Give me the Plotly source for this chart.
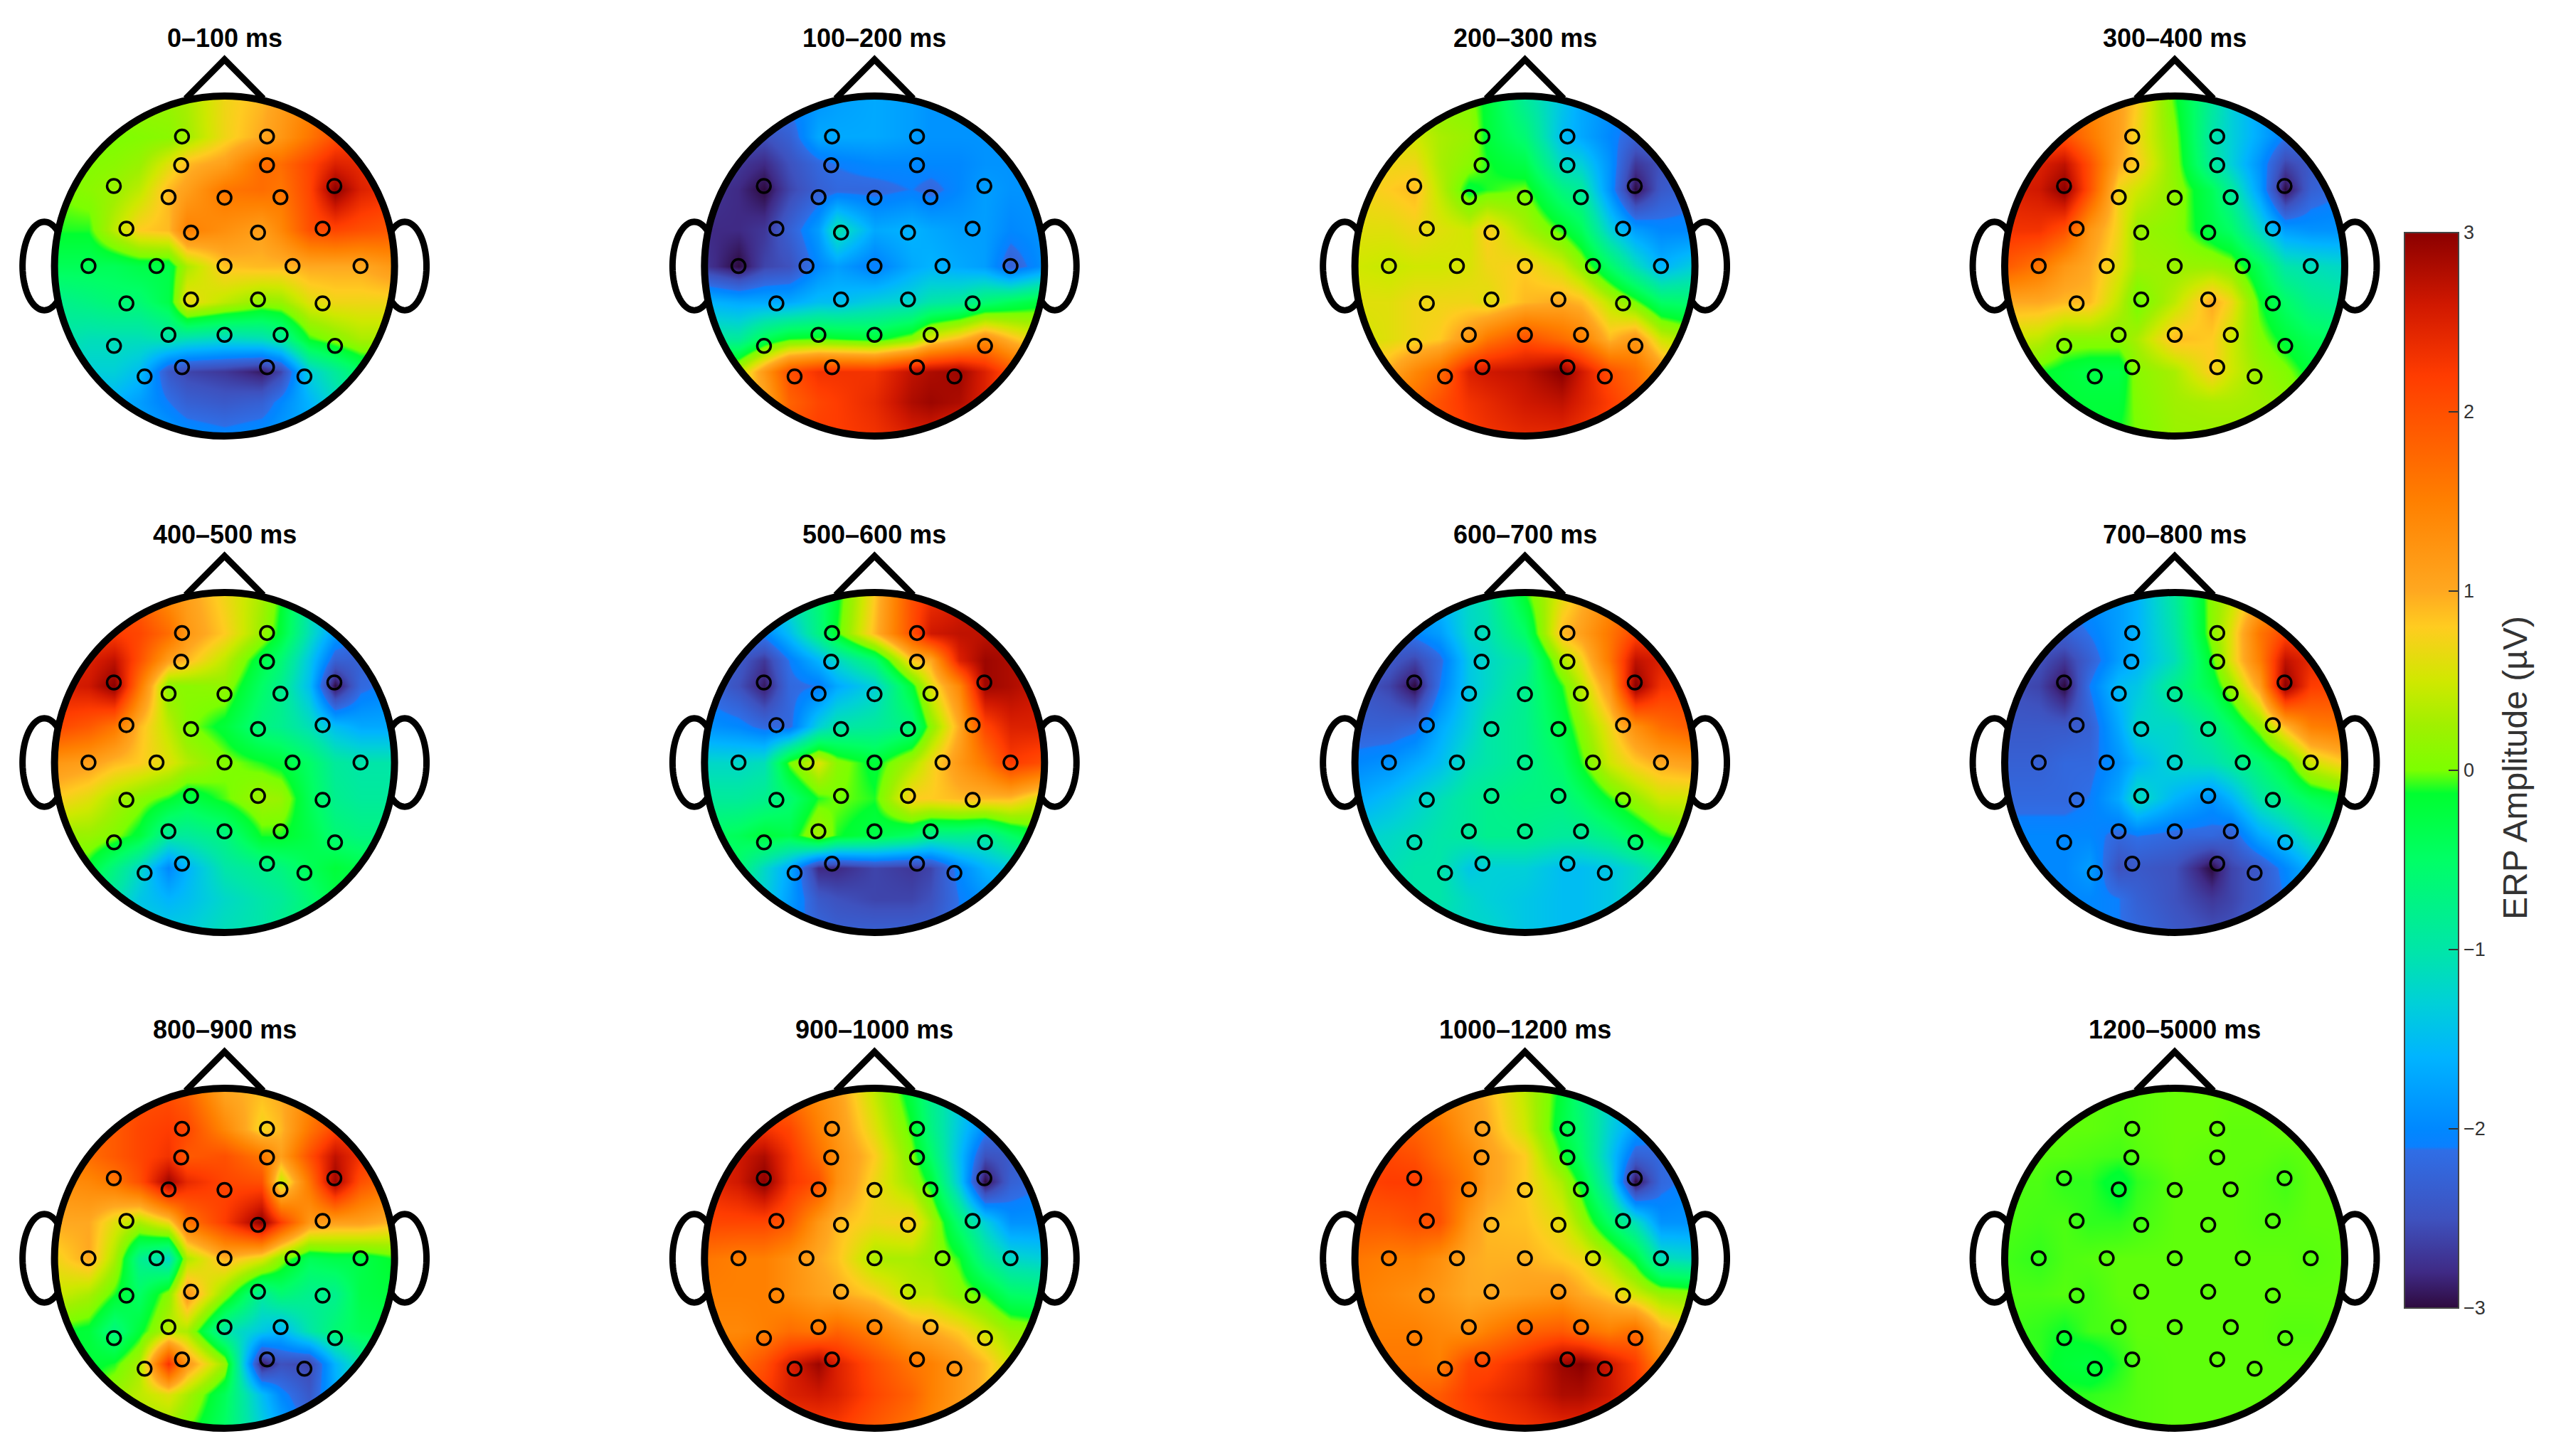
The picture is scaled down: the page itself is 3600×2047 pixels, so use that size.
import math
import plotly.graph_objects as go

TITLES = ["0–100 ms", "100–200 ms", "200–300 ms", "300–400 ms",
          "400–500 ms", "500–600 ms", "600–700 ms", "700–800 ms",
          "800–900 ms", "900–1000 ms", "1000–1200 ms", "1200–5000 ms"]

# Electrode positions on the unit head
ELEC_X = [-.25, .25, -.255, .25, -.651, .646, -.329, 0, .329, -.577, .577, -.197, .197, -.8, -.4, 0, .4, .8,
          -.197, .197, -.577, .577, -.33, 0, .33, -.65, .65, -.25, .25, -.47, .47]
ELEC_Y = [.762, .762, .593, .593, .471, .471, .405, .402, .405, .22, .22, .197, .197, 0, 0, 0, 0, 0,
          -.197, -.197, -.22, -.22, -.405, -.405, -.405, -.47, -.47, -.595, -.595, -.65, -.65]

# Amplitude at these scalp positions (top row first).
# Rows near the rim only list the central columns.
GRID_X = [-1, -.8, -.65, -.5, -.33, -.22, 0, .22, .33, .5, .65, .8, 1]
GRID_Y = [1, .76, .6, .45, .21, 0, -.21, -.43, -.62, -.8, -1]

P_0_100 = [
 [.2,.2,.2,.3,.7,.9,1.1,1.4,1.8],
 [0,0,.05,.1,.25,.7,1,1.2,1.6,2,2.3],
 [0,.05,.1,.2,.6,.9,1.1,1.7,1.7,2.1,2.5,2.4,2.2],
 [0,.1,.2,.4,.9,1.1,1.6,1.7,1.6,2.1,3,2.5,2.3],
 [-.1,-.1,.4,.8,.9,1.5,1.3,1.1,1.4,2,2.1,2,1.9],
 [-.4,-.4,-.4,-.3,-.3,.3,.85,.9,.9,1,1,1,1.2],
 [-.8,-.7,-.6,-.6,-.3,.7,.4,.15,.2,.6,.7,.7,.7],
 [-1,-1.1,-1.1,-1.1,-1,-1.1,-1.2,-1.1,-.9,-.1,.1,.3,.3],
 [-1.2,-1.3,-1.3,-1.5,-2.4,-2.6,-2.7,-2.9,-2.6,-1.3,-.9,-.5,-.3],
 [-1.6,-1.6,-1.8,-2.1,-2.3,-2.4,-2.3,-2,-1.6,-1.2,-.8],
 [-1.6,-1.7,-1.8,-1.9,-2,-1.9,-1.8,-1.7,-1.4]]
P_100_200 = [
 [-2.1,-2,-1.9,-1.8,-1.7,-1.8,-1.9,-1.9,-1.9],
 [-2.5,-2.5,-2.3,-1.7,-1.7,-1.7,-1.8,-1.9,-1.9,-1.9,-1.9],
 [-2.6,-2.7,-2.8,-2.5,-2.2,-2.1,-2,-2,-2,-2,-1.9,-1.9,-1.9],
 [-2.7,-2.8,-3,-2.6,-2.3,-2.2,-2.2,-2.1,-2.2,-2,-1.8,-1.9,-1.9],
 [-2.8,-2.8,-2.7,-2.3,-1.8,-1,-1.7,-1.6,-1.7,-1.8,-1.8,-2,-1.9],
 [-2.7,-3,-2.6,-2.5,-2,-1.8,-2.1,-1.7,-1.6,-1.7,-1.8,-2.3,-1.9],
 [-1.6,-1.7,-1.7,-1.7,-1.5,-1.5,-1.3,-1.2,-1,-.9,-.6,-.4,-.2],
 [-.9,-.9,-.4,-.1,-.05,-.1,-.2,.1,.6,.9,1.3,.9,.5],
 [.2,.4,1.2,2,2.3,2.3,2.3,2.7,2.8,2.9,2.5,2,1.5],
 [.8,1,1.8,2.1,2.2,2.4,2.8,2.9,2.8,2.5,2],
 [1.8,2,2.2,2.2,2.3,2.5,2.5,2.3,2.2]]
P_200_300 = [
 [.15,.1,.05,-.2,-.9,-1.4,-1.7,-1.9,-2.1],
 [.6,.5,.3,.2,-.2,-.6,-1.5,-1.7,-2,-2.3,-2.3],
 [.7,.7,.7,.3,.1,-.1,-.3,-1.2,-1.3,-1.9,-2.7,-2.5,-2.3],
 [.7,.8,.9,.4,-.2,-.1,0,-.7,-.9,-1.9,-3,-2.4,-2.2],
 [.6,.6,.7,.6,.5,.8,.3,-.1,-.4,-1.3,-1.8,-2,-2],
 [.5,.45,.5,.5,.55,.7,.8,.5,.15,-.5,-1.1,-1.6,-1.3],
 [.6,.6,.7,.7,.7,.6,.9,1,.9,.4,0,-.5,-.6],
 [.5,.6,.7,.8,1.2,1.6,2,1.7,1.5,.9,1.2,.5,.2],
 [.9,1,1.4,1.7,2.5,2.6,2.7,3,2.6,2,1.7,1.2,.7],
 [1.5,1.7,2,2.3,2.4,2.6,2.7,2.5,2.2,1.9,1.3],
 [1.9,2,2.2,2.3,2.4,2.4,2.3,2.1,2]]
P_300_400 = [
 [1.7,1.4,1.1,.8,-.1,-.9,-1.3,-1.7,-2],
 [2,2,1.6,1.1,.7,.05,-1,-1.3,-1.7,-2.1,-2.2],
 [2.4,2.5,2.7,2,1,.8,.1,-.9,-1.3,-1.9,-2.6,-2.4,-2.2],
 [2.5,2.6,3,2,.7,.5,.15,-.4,-.9,-1.8,-3,-2.3,-2.1],
 [2.3,2.3,2,1.2,.7,.2,.1,-.3,-.5,-1.2,-1.8,-1.9,-1.9],
 [1.9,1.6,1.2,1,.6,.25,.2,.2,.1,-.4,-1,-1.1,-1.2],
 [1,1,.9,.9,.4,-.05,.4,1,.7,-.1,-.5,-.8,-.9],
 [.5,.4,.1,.1,.1,.3,.9,.8,.5,.05,-.2,-.4,-.5],
 [.2,-.1,-.2,-.3,-.3,.1,.3,.8,.5,.2,.05,-.2,-.3],
 [-.1,-.2,-.2,-.2,.05,.25,.3,.3,.25,.15,0],
 [-.2,-.2,-.1,0,.2,.2,.2,.2,.15]]
P_400_500 = [
 [2,1.8,1.3,1.1,.7,.3,-.1,-1,-1.6],
 [2.2,2.2,2.1,1.7,1.2,.8,.2,-.2,-1.1,-1.8,-2.2],
 [2.5,2.5,2.7,2,1.1,.9,.4,-.3,-.6,-1.4,-2.3,-2.3,-2.2],
 [2.5,2.6,3,1.6,.1,.1,.15,-.5,-.8,-1.5,-3,-2.2,-2],
 [2.1,1.9,1.6,.9,.4,.05,-.2,-.7,-.8,-1.1,-1.5,-1.7,-1.7],
 [1.2,1.1,.9,.8,.6,.35,.05,-.1,-.2,-.5,-.9,-1,-1],
 [.8,.6,.3,.1,-.1,-.3,-.05,.25,.2,-.4,-.8,-.9,-.9],
 [.2,.2,.05,-.2,-.9,-.9,-.7,-.1,-.1,-.3,-.6,-.7,-.7],
 [0,-.2,-.7,-1.2,-2,-1.6,-1,-.8,-.7,-.4,-.2,-.3,-.3],
 [-.6,-1,-1.4,-1.6,-1.5,-1.2,-1,-.9,-.6,-.3,-.3],
 [-1.2,-1.3,-1.3,-1.3,-1.1,-1,-.8,-.6,-.4]]
P_500_600 = [
 [-1.3,-1,-.6,-.2,.8,2,2.3,2.5,2.7],
 [-2.1,-2,-1.5,-.7,-.1,.9,2,2.6,2.7,2.7,2.8],
 [-2.3,-2.4,-2.7,-2.1,-1.6,-1.2,-.6,.8,1,2.5,2.9,2.8,2.7],
 [-2.2,-2.5,-2.9,-2.2,-2.1,-1.7,-1.3,-.2,.6,1.4,2.9,2.8,2.6],
 [-1.9,-2,-2.2,-2.2,-1.3,-1,-.9,-.7,.1,1,2.1,2.5,2.5],
 [-1.2,-1.2,-1.1,0,.6,.1,-.2,.3,.7,1.2,1.6,2.2,2],
 [-.9,-.9,-.8,-.6,-.1,0,-.1,.8,.8,.9,.9,.9,.5],
 [-.5,-.4,-.2,-.3,.3,-.1,-.3,-.5,-.8,-.8,-.9,-.5,-.1],
 [-.5,-.6,-1.2,-1.7,-2.8,-2.8,-2.6,-2.7,-2.6,-2,-1.6,-1.4,-1.2],
 [-1.1,-1.3,-1.8,-2.4,-2.5,-2.6,-2.6,-2.5,-2.1,-1.9,-1.6],
 [-1.9,-2,-2.2,-2.3,-2.3,-2.3,-2.3,-2.1,-2]]
P_600_700 = [
 [-1.7,-1.5,-1.2,-1,-.1,.6,.9,1.3,1.8],
 [-2.3,-2,-1.8,-1.2,-1.1,-.5,.9,1.1,1.6,2.1,2.3],
 [-2.3,-2.4,-2.6,-2.2,-1.4,-1.2,-.9,.3,.7,1.6,2.7,2.5,2.2],
 [-2.4,-2.6,-3,-2.1,-1.4,-1.2,-.8,-.1,.4,1.2,3,2.3,2.2],
 [-2.3,-2.3,-2.2,-1.7,-1.3,-1,-.8,-.3,.1,.7,1.3,1.7,1.9],
 [-2,-1.9,-1.7,-1.5,-1.1,-1,-.8,-.5,-.1,.5,.8,1,1.1],
 [-1.7,-1.5,-1.3,-1.1,-.9,-.8,-.7,-.7,-.5,-.1,.2,.5,.5],
 [-1.3,-1.2,-1.1,-1,-.9,-.8,-.8,-.9,-.9,-.7,-.4,-.1,.1],
 [-1.1,-1.1,-1,-1,-1.4,-1.3,-1.3,-1.5,-1.5,-1.4,-1.2,-.9,-.6],
 [-1,-1,-1,-1.2,-1.3,-1.4,-1.5,-1.5,-1.4,-1.2,-1],
 [-1,-1.1,-1.2,-1.2,-1.4,-1.5,-1.5,-1.4,-1.2]]
P_700_800 = [
 [-2,-1.9,-1.8,-1.6,-.9,.1,.4,.9,1.3],
 [-2.4,-2.3,-2.1,-1.8,-1.6,-1,.1,.6,1.6,2.1,2.2],
 [-2.4,-2.5,-2.7,-2.3,-1.8,-1.6,-1.1,-.1,.6,1.5,2.7,2.4,2.2],
 [-2.5,-2.6,-3,-2.1,-1.5,-1.4,-.8,-.3,.2,1.1,3,2.2,2.1],
 [-2.4,-2.4,-2.4,-2.3,-1.7,-1.2,-1.2,-.8,-.5,.1,.9,1.5,1.6],
 [-2.3,-2.3,-2.2,-2.2,-1.9,-1.6,-1.2,-1.1,-.9,-.6,-.2,.5,.8],
 [-2.2,-2.2,-2.2,-2.1,-1.7,-1.1,-1.6,-1.9,-1.6,-1,-.7,-.4,-.2],
 [-2,-2,-2,-2,-2.2,-2.1,-2.2,-2.2,-2.3,-1.7,-1.4,-1,-.7],
 [-2,-2,-2,-1.8,-2.5,-2.4,-2.5,-3,-2.6,-2.4,-2,-1.6,-1.3],
 [-2,-2,-2,-2.1,-2.3,-2.5,-2.7,-2.6,-2.4,-2.1,-1.6],
 [-2,-2,-2.1,-2.2,-2.4,-2.5,-2.5,-2.3,-2.1]]
P_800_900 = [
 [1.9,2,2,1.8,1,.9,1,1.3,1.8],
 [1.8,1.9,2.1,2.2,2.1,1.4,.7,.9,1.6,2.1,2.3],
 [1.6,1.7,1.9,2.1,2.3,1.9,2,1.6,1.1,2,2.7,2.3,2],
 [1.3,1.4,1.6,2,2.9,2.4,2.1,2,.4,1.6,2.9,2,1.6],
 [1,1,.6,.3,.7,1.6,2.2,3,2.2,1.2,1.1,1.1,.9],
 [.7,1,.3,-.8,-1.2,.3,.95,.6,.1,-.4,-.3,-.3,-.1],
 [.5,.3,-.1,-.5,.1,1.2,.15,-.9,-.6,-.8,-.8,-.3,-.2],
 [-.1,-.2,-.7,-.2,.4,.3,-1,-1.4,-1.6,-1,-.6,-.4,-.3],
 [-.2,-.2,-.1,.3,2.3,1.2,.2,-2.9,-2.5,-2.6,-1.6,-1,-.6],
 [-.1,.2,.4,.6,.3,-.4,-1.5,-2,-2.4,-1.7,-1],
 [.3,.3,.2,0,-.5,-1.3,-1.7,-2.2,-1.9]]
P_900_1000 = [
 [1.8,1.6,1.3,1.1,.4,-.3,-.8,-1.3,-1.7],
 [2.3,2.3,2.1,1.5,1.2,.6,-.1,-.7,-1.4,-2,-2.3],
 [2.4,2.6,2.8,2.3,1.7,1.3,.8,.05,-.5,-1.5,-2.5,-2.4,-2.2],
 [2.4,2.6,3,2.3,2,1.3,.7,.2,-.2,-1.4,-3,-2.3,-2.1],
 [2.1,2.1,2.1,1.9,1.2,.9,.7,.8,.3,-.6,-1.3,-1.9,-1.9],
 [1.6,1.5,1.5,1.3,1,.85,.3,.3,.2,-.1,-.8,-1.2,-1.3],
 [1.5,1.5,1.5,1.3,1.1,1,.8,.4,.4,.1,-.1,-.5,-.6],
 [1.4,1.4,1.5,1.7,1.6,1.8,1.5,1.1,1,.8,.5,.2,.1],
 [1.6,1.7,2,2.5,2.9,2.5,2,1.6,1.5,1.2,.9,.5,.2],
 [2,2.2,2.5,2.6,2.5,2.1,1.8,1.5,1.2,.9,.5],
 [2.1,2.2,2.2,2.2,1.9,1.6,1.4,1.1,.8]]
P_1000_1200 = [
 [1.5,1.3,1.1,.9,.4,-.2,-.7,-1.2,-1.6],
 [1.9,1.8,1.6,1.2,1,.5,-.3,-.6,-1.3,-1.8,-2.1],
 [2,2.1,2,1.7,1.4,1.1,.8,-.1,-.5,-1.4,-2.3,-2.2,-2.1],
 [2.1,2.2,2.2,1.9,1.5,1.1,.8,.3,-.2,-1.2,-3,-2.2,-2],
 [1.9,1.9,2,2,1.2,.9,.85,.6,.2,-.5,-1.1,-1.9,-1.9],
 [1.6,1.5,1.5,1.3,1,.95,.95,.8,.7,.3,-.2,-1.1,-1.2],
 [1.5,1.4,1.3,1.2,1,1,1.1,1.2,1,.8,.5,.2,.1],
 [1.5,1.5,1.5,1.4,1.3,1.5,1.8,1.9,1.7,1.5,1.7,1,.7],
 [1.6,1.6,1.6,1.5,2.1,2.1,2.4,2.9,3,2.6,2.2,1.4,1],
 [1.7,1.8,1.9,2.2,2.3,2.5,2.8,2.8,2.6,2.3,1.8],
 [1.9,2,2.1,2.2,2.3,2.4,2.4,2.3,2.1]]
P_1200_5000 = [
 [-.03,-.03,-.03,-.03,-.02,-.02,-.02,-.02,-.02],
 [-.03,-.03,-.03,-.04,-.03,-.02,-.02,-.03,-.03,-.02,-.02],
 [-.04,-.04,-.04,-.05,-.06,-.04,-.02,-.03,-.03,-.03,-.04,-.03,-.03],
 [-.05,-.05,-.08,-.08,-.18,-.08,-.03,-.03,-.03,-.04,-.06,-.03,-.03],
 [-.05,-.06,-.05,-.08,-.08,-.06,-.03,-.03,-.03,-.04,-.04,-.03,-.03],
 [-.06,-.08,-.05,-.04,-.03,-.03,-.03,-.03,-.03,-.03,-.03,-.04,-.03],
 [-.05,-.05,-.04,-.06,-.03,-.03,-.03,-.03,-.03,-.03,-.03,-.03,-.03],
 [-.06,-.08,-.12,-.06,-.05,-.03,-.03,-.03,-.03,-.03,-.04,-.04,-.03],
 [-.06,-.08,-.18,-.23,-.1,-.04,-.03,-.03,-.03,-.03,-.03,-.03,-.03],
 [-.06,-.08,-.08,-.06,-.04,-.03,-.03,-.03,-.03,-.03,-.03],
 [-.05,-.05,-.04,-.04,-.03,-.03,-.03,-.03,-.03]]
PANELS = [P_0_100, P_100_200, P_200_300, P_300_400, P_400_500, P_500_600,
          P_600_700, P_700_800, P_800_900, P_900_1000, P_1000_1200, P_1200_5000]

# The page adds an 8 px body margin on every side
COL_X = [307.6, 1221.3, 2135.6, 3049]
ROW_Y = [366, 1064, 1761]
TITLE_Y = [45.6, 743, 1439]
R = 239
W, H = 3584, 2031
XR, YLO, YHI = 1.25, -1.1, 1.3

vals = [-3, -2.8, -2.5, -2.12, -2.1, -2, -1.6, -1.3, -1, -.5, -.13, 0, .25, .5, .8, 1, 1.5, 2, 2.2, 2.6, 3]
cols = ["#2e0a3e", "#3f2a85", "#3e52bf", "#2f6ee6", "#0a80ff", "#0088ff", "#00b4ff", "#00d0d8", "#00e6a8",
        "#00ff66", "#00ff30", "#7cff00", "#a0f000", "#d0e800", "#ffcc20", "#ffa820", "#ff8000", "#ff5000",
        "#ff3c00", "#d01800", "#8b0000"]
scale = [[(v + 3) / 6, c] for v, c in zip(vals, cols)]


def full_row(row):
    pad = (len(GRID_X) - len(row)) // 2
    return [None] * pad + list(row) + [None] * pad


circle_pts = [(math.cos(2 * math.pi * i / 240), math.sin(2 * math.pi * i / 240)) for i in range(240)]
mask = "M-1.2,-1.2 L1.2,-1.2 L1.2,1.2 L-1.2,1.2 Z M" + " L".join(f"{a:.4f},{b:.4f}" for a, b in circle_pts) + " Z"


def ear(sign):
    pts = []
    for i in range(-60, 61):
        t = math.pi * i / 60
        ex, ey = 1.06 + .128 * math.cos(t), .26 * math.sin(t)
        if ex * ex + ey * ey >= .985:
            pts.append((sign * ex, ey))
    return "M" + " L".join(f"{a:.4f},{b:.4f}" for a, b in pts)


fig = go.Figure()
layout = dict(width=W, height=H, margin=dict(l=0, r=0, t=0, b=0), paper_bgcolor="white", plot_bgcolor="white",
              showlegend=False, autosize=False,
              coloraxis=dict(cmin=-3, cmax=3, colorscale=scale,
                             colorbar=dict(x=3372 / W, xanchor="left", xpad=0, ypad=0,
                                           y=(H - 1075) / H, yanchor="middle", len=1512 / H, lenmode="fraction",
                                           thickness=76, thicknessmode="pixels",
                                           tick0=-3, dtick=1, ticks="inside", ticklen=15, tickwidth=2, tickcolor="#333",
                                           tickfont=dict(family="Liberation Sans", size=27, color="#333"),
                                           outlinecolor="#444", outlinewidth=2)))
shapes, annos = [], []
for i, z in enumerate(PANELS):
    r, c = divmod(i, 4)
    cx, cy = COL_X[c], ROW_Y[r]
    n = "" if i == 0 else str(i + 1)
    xa, ya = f"x{n}", f"y{n}"
    rows = [full_row(rw) for rw in z]
    fig.add_trace(go.Heatmap(x=GRID_X, y=GRID_Y[::-1], z=rows[::-1], coloraxis="coloraxis", zsmooth="best",
                             connectgaps=True, xaxis=xa, yaxis=ya, hoverinfo="skip"))
    fig.add_trace(go.Scatter(x=ELEC_X, y=ELEC_Y, mode="markers", xaxis=xa, yaxis=ya, hoverinfo="skip",
                             marker=dict(symbol="circle-open", size=19, color="black", line=dict(width=3.5, color="black"))))
    axis = dict(visible=False, fixedrange=True)
    layout[f"xaxis{n}"] = dict(axis, range=[-XR, XR], domain=[(cx - XR * R) / W, (cx + XR * R) / W], anchor=ya)
    layout[f"yaxis{n}"] = dict(axis, range=[YLO, YHI], domain=[1 - (cy - YLO * R) / H, 1 - (cy - YHI * R) / H], anchor=xa)
    ref = dict(xref=xa, yref=ya, layer="above")
    shapes.append(dict(ref, type="path", path=mask, fillcolor="white", fillrule="evenodd", line=dict(width=0)))
    for s in (-1, 1):
        shapes.append(dict(ref, type="path", path=ear(s), line=dict(color="black", width=9)))
    shapes.append(dict(ref, type="path", path="M-.228,.985 L0,1.215 L.228,.985", line=dict(color="black", width=9)))
    shapes.append(dict(ref, type="circle", x0=-1, x1=1, y0=-1, y1=1, line=dict(color="black", width=10)))
    annos.append(dict(text=f"<b>{TITLES[i]}</b>", xref="paper", yref="paper", x=cx / W, y=1 - TITLE_Y[r] / H,
                      showarrow=False, xanchor="center", yanchor="middle",
                      font=dict(family="Liberation Sans", size=36, color="black")))
annos.append(dict(text="ERP Amplitude (µV)", xref="paper", yref="paper", x=3527 / W, y=1 - 1072 / H, textangle=-90,
                  showarrow=False, xanchor="center", yanchor="middle",
                  font=dict(family="Liberation Sans", size=48, color="#333")))
layout["shapes"] = shapes
layout["annotations"] = annos
fig.update_layout(**layout)
fig.write_html("out.html")
